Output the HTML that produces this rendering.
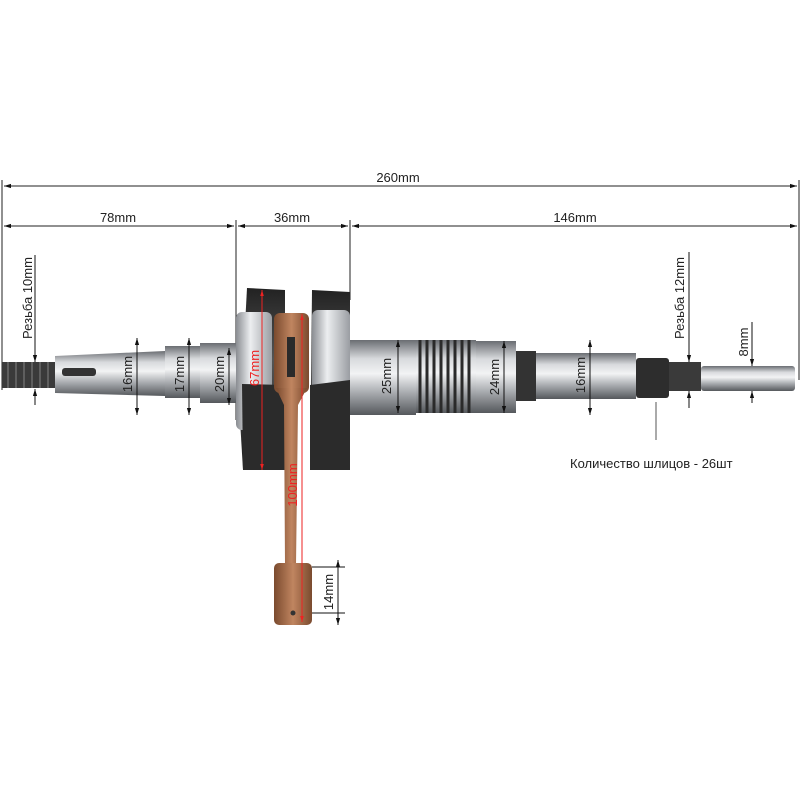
<!DOCTYPE html>
<html><head><meta charset="utf-8"><style>
html,body{margin:0;padding:0;background:#fff}
svg{display:block}
text{font-family:"Liberation Sans",sans-serif;fill:#222}
</style></head><body>
<svg width="800" height="800" viewBox="0 0 800 800" xmlns="http://www.w3.org/2000/svg">
<defs>
<linearGradient id="steel" x1="0" y1="0" x2="0" y2="1">
<stop offset="0" stop-color="#6a6d72"/><stop offset="0.25" stop-color="#d8dadd"/><stop offset="0.45" stop-color="#f2f3f4"/><stop offset="0.7" stop-color="#a9acb0"/><stop offset="1" stop-color="#55585c"/></linearGradient>
<linearGradient id="steelh" x1="0" y1="0" x2="1" y2="0">
<stop offset="0" stop-color="#8a8d92"/><stop offset="0.4" stop-color="#eceef0"/><stop offset="1" stop-color="#9a9da2"/></linearGradient>
<linearGradient id="dark" x1="0" y1="0" x2="0" y2="1">
<stop offset="0" stop-color="#222"/><stop offset="0.4" stop-color="#555"/><stop offset="1" stop-color="#1c1c1c"/></linearGradient>
<linearGradient id="copper" x1="0" y1="0" x2="1" y2="0">
<stop offset="0" stop-color="#7a4a2e"/><stop offset="0.5" stop-color="#c08560"/><stop offset="1" stop-color="#7a4a2e"/></linearGradient>
<marker id="a" viewBox="0 0 10 10" refX="10" refY="5" markerWidth="7" markerHeight="7" orient="auto-start-reverse"><path d="M0,2 L10,5 L0,8z" fill="#111"/></marker>
<marker id="r" viewBox="0 0 10 10" refX="10" refY="5" markerWidth="6" markerHeight="6" orient="auto-start-reverse"><path d="M0,2 L10,5 L0,8z" fill="#e22"/></marker>
</defs>
<rect width="800" height="800" fill="#fff"/>
<g stroke="#222" stroke-width="1">
<line x1="2" y1="180" x2="2" y2="390"/>
<line x1="236" y1="220" x2="236" y2="420"/>
<line x1="350" y1="220" x2="350" y2="300"/>
<line x1="799" y1="180" x2="799" y2="380"/>
<line x1="4" y1="186" x2="797" y2="186" marker-start="url(#a)" marker-end="url(#a)"/>
<line x1="4" y1="226" x2="234" y2="226" marker-start="url(#a)" marker-end="url(#a)"/>
<line x1="238" y1="226" x2="348" y2="226" marker-start="url(#a)" marker-end="url(#a)"/>
<line x1="352" y1="226" x2="797" y2="226" marker-start="url(#a)" marker-end="url(#a)"/>
</g>
<text x="398" y="182" font-size="13" text-anchor="middle">260mm</text>
<text x="118" y="222" font-size="13" text-anchor="middle">78mm</text>
<text x="292" y="222" font-size="13" text-anchor="middle">36mm</text>
<text x="575" y="222" font-size="13" text-anchor="middle">146mm</text>

<rect x="2" y="362" width="54" height="26" fill="#3a3a3a"/>
<g stroke="#777" stroke-width="1.2"><line x1="8" y1="362" x2="8" y2="388"/><line x1="16" y1="362" x2="16" y2="388"/><line x1="24" y1="362" x2="24" y2="388"/><line x1="32" y1="362" x2="32" y2="388"/><line x1="40" y1="362" x2="40" y2="388"/><line x1="48" y1="362" x2="48" y2="388"/></g>
<path d="M55,356 L165,351 L165,396 L55,393z" fill="url(#steel)"/>
<rect x="62" y="368" width="34" height="8" rx="3" fill="#333"/>
<rect x="165" y="346" width="35" height="52" fill="url(#steel)"/>
<rect x="200" y="343" width="36" height="60" fill="url(#steel)"/>
<!-- webs -->
<path d="M247,288 L285,290 L285,470 L243,470 L240,420z" fill="url(#dark)"/>
<rect x="236" y="312" width="36" height="118" rx="6" fill="url(#steelh)"/>
<path d="M242,384 L285,385 L285,470 L243,470z" fill="#2b2b2b"/>
<path d="M312,290 L350,292 L350,470 L310,470z" fill="url(#dark)"/>
<rect x="312" y="310" width="38" height="122" rx="6" fill="url(#steelh)"/>
<path d="M310,385 L350,380 L350,470 L310,470z" fill="#2b2b2b"/>
<!-- con rod -->
<rect x="274" y="313" width="35" height="80" rx="6" fill="url(#copper)"/>
<path d="M276,388 L307,388 L298,405 L296,565 L285,565 L284,405z" fill="url(#copper)"/>
<rect x="274" y="563" width="38" height="62" rx="5" fill="url(#copper)"/>
<rect x="287" y="337" width="8" height="40" fill="#2a2a2a"/>
<circle cx="293" cy="613" r="2.5" fill="#333"/>
<!-- right shaft -->
<rect x="350" y="340" width="66" height="75" fill="url(#steel)"/>
<rect x="416" y="340" width="60" height="73" fill="url(#steel)"/>
<g stroke="#2a2a2a" stroke-width="3"><line x1="420" y1="340" x2="420" y2="413"/><line x1="427" y1="340" x2="427" y2="413"/><line x1="434" y1="340" x2="434" y2="413"/><line x1="441" y1="340" x2="441" y2="413"/><line x1="448" y1="340" x2="448" y2="413"/><line x1="455" y1="340" x2="455" y2="413"/><line x1="462" y1="340" x2="462" y2="413"/><line x1="469" y1="340" x2="469" y2="413"/></g>
<rect x="476" y="341" width="40" height="72" fill="url(#steel)"/>
<rect x="516" y="351" width="20" height="50" fill="#333"/>
<rect x="536" y="353" width="100" height="46" fill="url(#steel)"/>
<rect x="636" y="358" width="33" height="40" rx="3" fill="#2d2d2d"/>
<rect x="669" y="362" width="32" height="29" fill="#3a3a3a"/>
<rect x="701" y="366" width="94" height="25" rx="3" fill="url(#steel)"/>
<g stroke="#111" stroke-width="1">
<line x1="35" y1="255" x2="35" y2="362" marker-end="url(#a)"/><line x1="35" y1="405" x2="35" y2="389" marker-end="url(#a)"/>
<line x1="137" y1="338" x2="137" y2="415" marker-start="url(#a)" marker-end="url(#a)"/>
<line x1="189" y1="338" x2="189" y2="415" marker-start="url(#a)" marker-end="url(#a)"/>
<line x1="229" y1="348" x2="229" y2="405" marker-start="url(#a)" marker-end="url(#a)"/>
<line x1="398" y1="340" x2="398" y2="413" marker-start="url(#a)" marker-end="url(#a)"/>
<line x1="504" y1="341" x2="504" y2="413" marker-start="url(#a)" marker-end="url(#a)"/>
<line x1="590" y1="340" x2="590" y2="415" marker-start="url(#a)" marker-end="url(#a)"/>
<line x1="689" y1="252" x2="689" y2="362" marker-end="url(#a)"/><line x1="689" y1="408" x2="689" y2="391" marker-end="url(#a)"/>
<line x1="752" y1="322" x2="752" y2="366" marker-end="url(#a)"/><line x1="752" y1="403" x2="752" y2="391" marker-end="url(#a)"/>
<line x1="338" y1="560" x2="338" y2="625" marker-start="url(#a)" marker-end="url(#a)"/>
<line x1="312" y1="567" x2="345" y2="567"/><line x1="312" y1="613" x2="345" y2="613"/>
<line x1="656" y1="402" x2="656" y2="440" stroke="#555"/>
</g>
<g stroke="#e22" stroke-width="1">
<line x1="262" y1="290" x2="262" y2="470" marker-start="url(#r)" marker-end="url(#r)"/>
<line x1="302" y1="314" x2="302" y2="622" marker-start="url(#r)" marker-end="url(#r)"/>
</g>
<g font-size="13">
<text transform="translate(32,298) rotate(-90)" text-anchor="middle">Резьба 10mm</text>
<text transform="translate(132,374) rotate(-90)" text-anchor="middle">16mm</text>
<text transform="translate(184,374) rotate(-90)" text-anchor="middle">17mm</text>
<text transform="translate(224,374) rotate(-90)" text-anchor="middle">20mm</text>
<text transform="translate(391,376) rotate(-90)" text-anchor="middle">25mm</text>
<text transform="translate(499,377) rotate(-90)" text-anchor="middle">24mm</text>
<text transform="translate(585,375) rotate(-90)" text-anchor="middle">16mm</text>
<text transform="translate(684,298) rotate(-90)" text-anchor="middle">Резьба 12mm</text>
<text transform="translate(748,342) rotate(-90)" text-anchor="middle">8mm</text>
<text transform="translate(333,592) rotate(-90)" text-anchor="middle">14mm</text>
<text transform="translate(259,368) rotate(-90)" text-anchor="middle" style="fill:#e22">67mm</text>
<text transform="translate(297,485) rotate(-90)" text-anchor="middle" style="fill:#e22">100mm</text>
<text x="570" y="468">Количество шлицов - 26шт</text>
</g>
</svg>
</body></html>
